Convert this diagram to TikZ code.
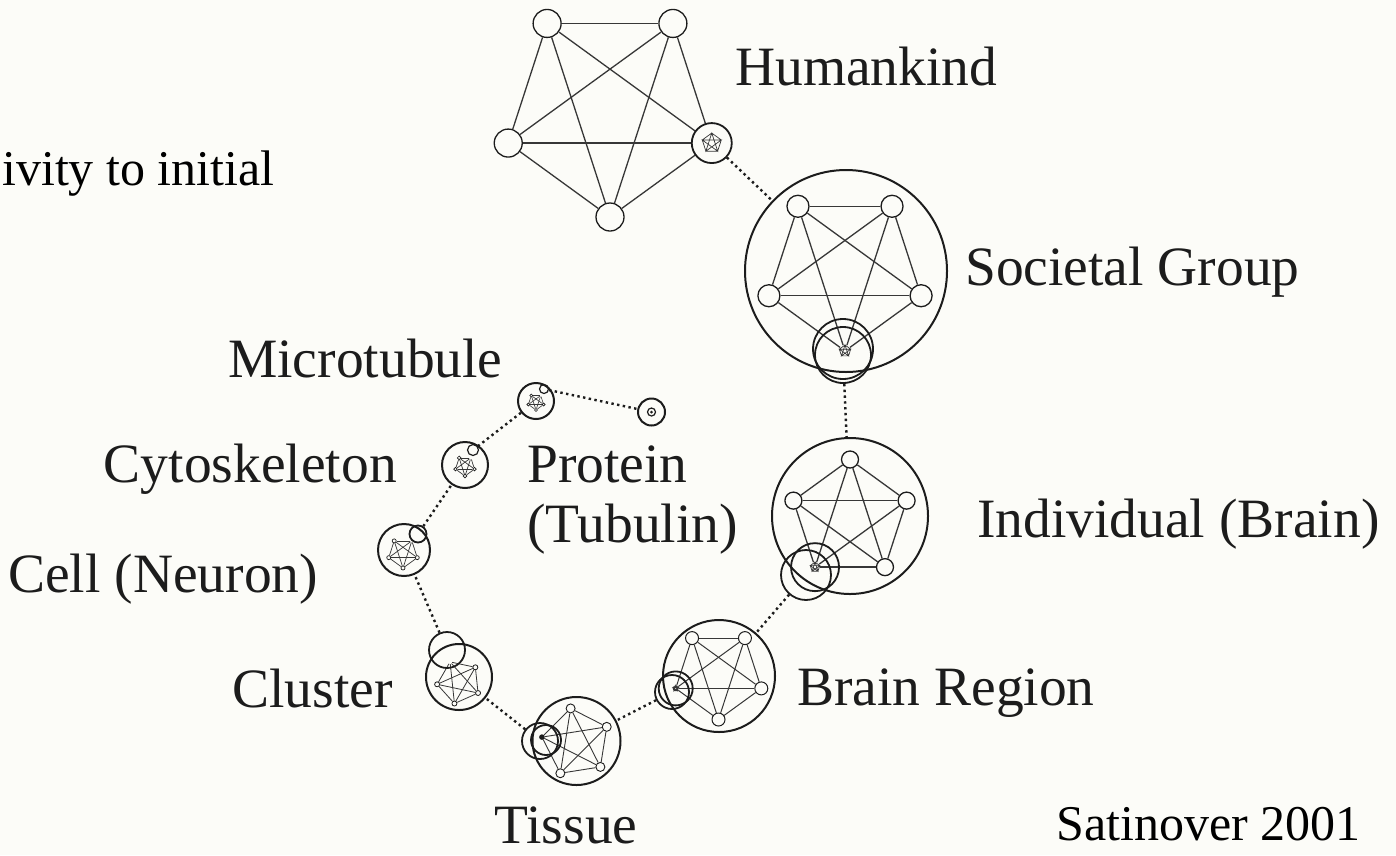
\documentclass[tikz,border=0pt]{standalone}
\usepackage{fontspec}
\setmainfont{Liberation Serif}
\usetikzlibrary{calc}
\definecolor{bgc}{RGB}{252,252,248}
\definecolor{ink}{RGB}{28,28,28}
\definecolor{edgec}{RGB}{55,55,55}
\tikzset{
  vnode/.style={circle, draw=ink, inner sep=0pt, line width=1.3pt},
  core/.style={circle, inner sep=0pt},
  snode/.style={circle, draw=ink, inner sep=0pt, line width=1.8pt},
  outer/.style={circle, draw=ink, inner sep=0pt, line width=2pt},
  edge/.style={draw=edgec, line width=1.3pt},
  mini/.style={draw=edgec, line width=0.7pt},
  chain/.style={draw=ink, line width=2.4pt, dash pattern=on 2.4pt off 3.4pt},
  lab/.style={font=\fontsize{55.5}{64}\selectfont, text=ink, inner sep=0pt},
  lab2/.style={font=\fontsize{50}{58}\selectfont, text=black, inner sep=0pt},
}
% #1 name #2 cx #3 cy #4 R #5 start angle #6 node radius #7 special index #8 core radius
\newcommand{\pnet}[8]{%
  \foreach \k in {1,...,5}{%
    \pgfmathsetmacro{\ang}{#5+72*(\k-1)}%
    \ifnum\k=#7\relax
      \node[core, minimum size={2*#8pt}] (#1-\k) at ({#2+#4*cos(\ang)},{#3+#4*sin(\ang)}) {};
    \else
      \node[vnode, minimum size={2*#6pt}] (#1-\k) at ({#2+#4*cos(\ang)},{#3+#4*sin(\ang)}) {};
    \fi
  }
  \foreach \i in {1,...,5}{\foreach \j in {1,...,5}{%
    \ifnum\i<\j\relax \draw[edge] (#1-\i) -- (#1-\j);\fi}}
}
% mini pentagram round a node centre
\newcommand{\mstar}[2]{%
  \draw[mini] ($(#1)+(-90:#2)$) -- ($(#1)+(54:#2)$) -- ($(#1)+(198:#2)$) -- ($(#1)+(-18:#2)$) -- ($(#1)+(126:#2)$) -- cycle
    ($(#1)+(-90:#2)$) -- ($(#1)+(-18:#2)$) -- ($(#1)+(54:#2)$) -- ($(#1)+(126:#2)$) -- ($(#1)+(198:#2)$) -- cycle;
}
\begin{document}
\begin{tikzpicture}[x=1pt, y=-1pt]
\fill[bgc] (0,0) rectangle (1396,855);
\useasboundingbox (0,0) rectangle (1396,855);

% Humankind
\pnet{hk}{610}{110}{107}{90}{14}{5}{20}
\node[snode, minimum size=40pt] (hk-s) at (hk-5) {};
\mstar{hk-5}{10}

% Societal Group
\node[outer, minimum size=202pt] (soc-o) at (846,271) {};
\pnet{soc}{845}{271}{80}{90}{11}{1}{6}
\node[snode, minimum size=60pt] (soc-s) at (843,349) {};
\node[snode, minimum size=56pt] (soc-c) at (843,355) {};
\mstar{soc-1}{6}

% Individual (Brain)
\node[outer, minimum size=156pt] (ind-o) at (850,516) {};
\pnet{ind}{850}{519}{59.5}{-90}{8.5}{4}{5}
\node[snode, minimum size=48pt] (ind-s) at (ind-4) {};
\node[snode, minimum size=50pt] (ind-c) at (806,575) {};
\mstar{ind-4}{5}

% Brain Region
\node[outer, minimum size=112pt] (br-o) at (719,676) {};
\begin{scope}[vnode/.append style={line width=1pt}, edge/.append style={line width=1pt}]
\pnet{br}{718.5}{674.5}{45}{90}{6.5}{2}{3}
\end{scope}
\node[snode, minimum size=34pt] (br-s) at (br-2) {};
\node[snode, minimum size=34pt] (br-c) at (672,692) {};
\mstar{br-2}{3}

% Tissue
\node[outer, minimum size=88pt] (ti-o) at (576.5,741) {};
\begin{scope}[vnode/.append style={line width=0.9pt}, edge/.append style={line width=0.9pt}]
\pnet{ti}{576}{742.5}{34.5}{189}{4.5}{1}{2.5}
\end{scope}
\node[snode, minimum size=30pt] (ti-s) at (546,740) {};
\node[snode, minimum size=36pt] (ti-c) at (540,741) {};
\fill[ink] (ti-1) circle (2.8);

% Cluster
\node[outer, minimum size=66pt] (cl-o) at (459,677) {};
\begin{scope}[vnode/.append style={line width=0.8pt}, edge/.append style={line width=0.8pt}]
\pnet{cl}{459}{682}{22}{246}{2.5}{1}{2}
\end{scope}
\node[snode, minimum size=36pt] (cl-s) at (447,650) {};

% Cell (Neuron)
\node[outer, minimum size=52pt] (ce-o) at (404,550) {};
\begin{scope}[vnode/.append style={line width=0.7pt}, edge/.append style={line width=0.7pt}]
\pnet{ce}{403}{553}{15}{306}{2}{1}{1.5}
\end{scope}
\node[snode, minimum size=17pt] (ce-s) at (418,534) {};

% Cytoskeleton
\node[outer, minimum size=46pt] (cy-o) at (465,465) {};
\begin{scope}[vnode/.append style={line width=0.7pt}, edge/.append style={line width=0.7pt}]
\pnet{cy}{465}{466}{10}{306}{1.8}{1}{1.5}
\end{scope}
\node[snode, minimum size=11pt, line width=1.2pt] (cy-s) at (473,450) {};

% Microtubule
\node[outer, minimum size=36pt] (mt-o) at (536,401) {};
\begin{scope}[vnode/.append style={line width=0.6pt}, edge/.append style={line width=0.6pt}]
\pnet{mt}{536}{402}{8}{306}{1.5}{1}{1}
\end{scope}
\node[snode, minimum size=9pt, line width=1.2pt] (mt-s) at (544,389) {};

% Protein
\node[outer, minimum size=27pt] (pr-o) at (651.5,412) {};
\node[snode, minimum size=8pt, line width=1.2pt] (pr-c) at (651.5,412) {};
\fill[ink] (pr-c) circle (1.5);

% dotted chain
\draw[chain] (hk-s) -- (soc-o);
\draw[chain] (soc-c) -- (ind-o);
\draw[chain] (ind-c) -- (br-o);
\draw[chain] (br-c) -- (ti-o);
\draw[chain] (ti-c) -- (cl-o);
\draw[chain] (cl-s) -- (ce-o);
\draw[chain] (ce-s) -- (cy-o);
\draw[chain] (cy-s) -- (mt-o);
\draw[chain] (mt-s) -- (pr-o);

% labels
\node[lab, anchor=base west] (l-hk) at (735,85) {Humankind};
\node[lab, anchor=base west] (l-soc) at (965,285) {Societal Group};
\node[lab, anchor=base west] (l-ind) at (977,537) {Individual (Brain)};
\node[lab, anchor=base west] (l-br) at (797,705) {Brain Region};
\node[lab, anchor=base] (l-ti) at (566,843) {Tissue};
\node[lab, anchor=base east] (l-cl) at (393,707) {Cluster};
\node[lab, anchor=base west] (l-ce) at (8,592) {Cell (Neuron)};
\node[lab, anchor=base east] (l-cy) at (397,482) {Cytoskeleton};
\node[lab, anchor=base west] (l-mt) at (228,377) {Microtubule};
\node[lab, anchor=base west] (l-pr) at (527,482) {Protein};
\node[lab, anchor=base west] (l-tu) at (527,542) {(Tubulin)};
\node[lab2, anchor=base west] (l-sat) at (1056,840) {Satinover 2001};
\node[lab2, anchor=base west] (l-iv) at (2,185) {ivity to initial};
\end{tikzpicture}
\end{document}
